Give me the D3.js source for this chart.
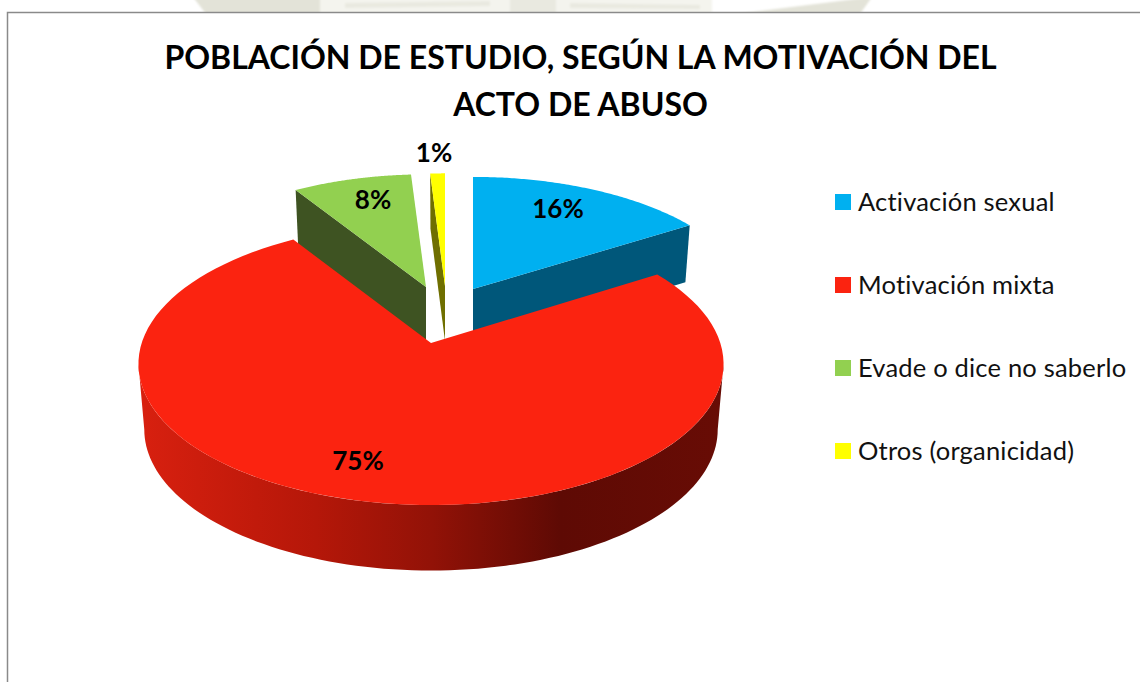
<!DOCTYPE html>
<html><head><meta charset="utf-8">
<script src="https://cdn.jsdelivr.net/npm/d3@7"></script>
<style>html,body{margin:0;padding:0;background:#fff}svg{display:block}</style>
</head><body><svg id="c" width="1140" height="682"></svg>
<script>
const titleLines = ["POBLACIÓN DE ESTUDIO, SEGÚN LA MOTIVACIÓN DEL", "ACTO DE ABUSO"];
const categories = ["Activación sexual", "Motivación mixta", "Evade o dice no saberlo", "Otros (organicidad)"];
const values = [16, 75, 8, 1];
const topColors = ["#00b0f0", "#fb2310", "#92d050", "#ffff00"];
const wallColors = ["#00577a", "#d2200f", "#3e5322", "#6f6f00"];

const svg = d3.select("#c");
const defs = svg.append("defs");
const g = defs.append("linearGradient").attr("id","wall").attr("gradientUnits","userSpaceOnUse")
  .attr("x1",140).attr("x2",724).attr("y1",0).attr("y2",0);
[[0,"#d8200f"],[0.3,"#b51709"],[0.5,"#921207"],[0.72,"#5e0a04"],[1,"#680c05"]]
  .forEach(([o,c])=>g.append("stop").attr("offset",o).attr("stop-color",c));
defs.append("filter").attr("id","soft").append("feGaussianBlur").attr("stdDeviation",1.2);

// top-of-image watermark fragments
const wm = svg.append("g").attr("filter","url(#soft)");
[[[193,-3],[320,-3],[320,14],[206,14],"#e3e3d8"],
 [[320,-3],[510,-3],[510,14],[320,14],"#f4f4ee"],
 [[345,3],[490,1],[490,6],[345,8],"#e9e9e0"],
 [[510,-3],[556,-3],[556,14],[510,14],"#e9e9e0"],
 [[556,-3],[712,-3],[712,14],[556,14],"#f4f4ee"],
 [[570,3],[700,5],[700,9],[570,8],"#e9e9e0"],
 [[737,14],[872,-3],[860,14],"#e3e3d8"]]
 .forEach(p=>{const c=p[p.length-1];wm.append("path").attr("fill",c).attr("d",d3.line()(p.slice(0,-1))+"Z");});
svg.append("rect").attr("x",0).attr("y",12).attr("width",1140).attr("height",670).attr("fill","#fff");
svg.append("path").attr("d","M7.5,682V12.5H1140").attr("fill","none").attr("stroke","#8a8a8a").attr("stroke-width",1.5);

// perspective projection of the pie plane
const persp = -0.149, ky = 137.9, kx = 289.3;
const arcs = d3.pie().value(d=>d).sort(null)(values);
const layout = [
  {cx:473,cy:289,r:.925,sx:1.03,depth:57},
  {cx:431,cy:343,r:1,sx:1,depth:65.5},
  {cx:426,cy:287,r:.93,sx:1.01,depth:58},
  {cx:445,cy:286,r:.93,sx:1,depth:55}
];
function proj(l,a,rr,drop){
  const X=Math.sin(a)*rr*l.r*l.sx, Y=-Math.cos(a)*rr*l.r, w=1+persp*Y;
  const sh = drop?0.98:1;
  return [l.cx+sh*kx*X/w, l.cy+ky*Y/w+(drop?l.depth:0)];
}
const line=d3.line();
function sweep(l,a0,a1,drop){ return d3.range(0,101).map(i=>proj(l,a0+(a1-a0)*i/100,1,drop)); }
function cutWall(l,a){
  return [[l.cx,l.cy],proj(l,a,1,false),proj(l,a,1,true),[l.cx,l.cy+l.depth]];
}
const pie=svg.append("g");
// draw order: rear slices first, red on top
[0,3,2,1].forEach(i=>{
  const l=layout[i], d=arcs[i];
  if(i===1){
    const a0=98.6*Math.PI/180, a1=261.4*Math.PI/180;
    pie.append("path").attr("fill","url(#wall)")
      .attr("d",line(sweep(l,a0,a1,false).concat(sweep(l,a1,a0,true)))+"Z");
  } else {
    const a=(i===0)?d.endAngle:d.startAngle;
    pie.append("path").attr("fill",wallColors[i]).attr("d",line(cutWall(l,a))+"Z");
  }
  pie.append("path").attr("fill",topColors[i])
    .attr("d",line([[l.cx,l.cy]].concat(sweep(l,d.startAngle,d.endAngle,false)))+"Z");
});

// title
svg.append("g").selectAll("text").data(titleLines).join("text")
  .attr("x",580.5).attr("y",(d,i)=>68.5+i*47).attr("text-anchor","middle")
  .attr("font-family","Lato").attr("font-weight",700).attr("font-size",32).attr("fill","#000").text(d=>d);

// data labels
const labelPos=[[558,218],[358,470],[373,209],[434,162]];
svg.append("g").selectAll("text").data(values).join("text")
  .attr("x",(d,i)=>labelPos[i][0]).attr("y",(d,i)=>labelPos[i][1]).attr("text-anchor","middle")
  .attr("font-family","Lato").attr("font-weight",700).attr("font-size",26).attr("fill","#000").text(d=>d+"%");

// legend
const ly=d3.scalePoint().domain(categories).range([202,451]);
const leg=svg.append("g").selectAll("g").data(categories).join("g")
  .attr("transform",d=>`translate(0,${ly(d)})`);
leg.append("rect").attr("x",835).attr("y",-8).attr("width",16).attr("height",16).attr("fill",(d,i)=>topColors[i]);
leg.append("text").attr("x",858).attr("y",8.5).attr("font-family","Lato").attr("font-size",25.5)
  .attr("letter-spacing",0.2).attr("fill","#111").text(d=>d);
</script></body></html>
